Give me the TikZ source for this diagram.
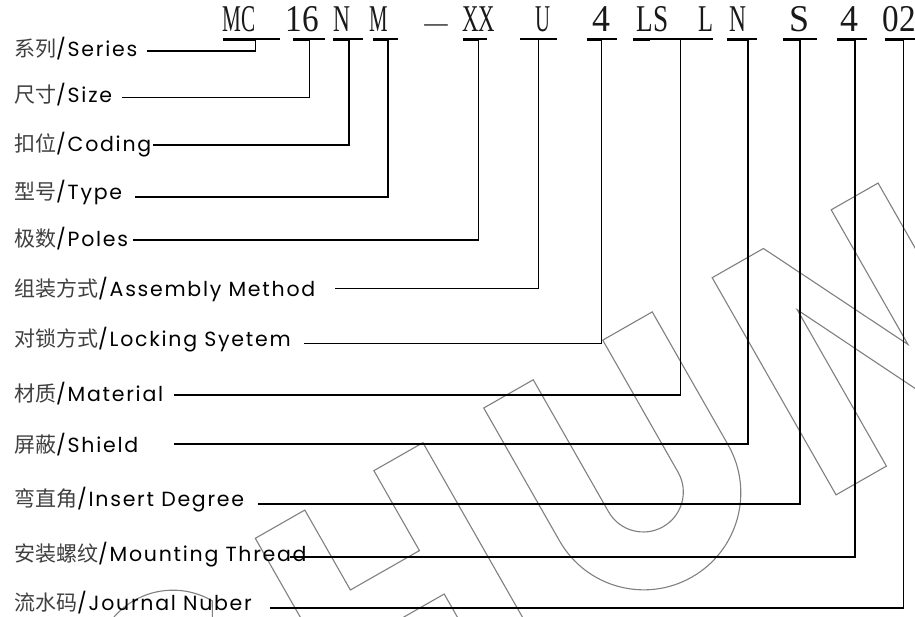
\documentclass[tikz,border=0pt]{standalone}
\usepackage{fontspec}
\usepackage{graphicx}
\newfontfamily\cjkf{Noto Sans CJK SC}
\newfontfamily\latf[LetterSpace=8.5]{Poppins}
\newfontfamily\codef{Liberation Serif}
\newcommand\zh[1]{{\cjkf\fontsize{21}{21}\selectfont\color{black!75}#1}}
\newcommand\cs[2]{\scalebox{#1}[1]{#2}}
\tikzset{
  lab/.style={anchor=base west, inner sep=0pt, font=\latf\fontsize{20.5}{22}\selectfont, text=black},
  code/.style={anchor=base, inner sep=0pt, font=\codef\fontsize{37.8}{40}\selectfont, text=black!90},
  conn/.style={line width=1.7pt, black},
  uline/.style={line width=1.7pt, black},
  ulthick/.style={line width=2.6pt, black},
  wm/.style={draw=black!50, line width=1.1pt, line join=miter}
}
\begin{document}
\begin{tikzpicture}[x=1pt,y=1pt]
\useasboundingbox (0,0) rectangle (915,-617);
\fill[white] (0,0) rectangle (915,-617);

% watermark (outlined letters, rotated)
\begin{scope}[shift={(255.3,-538.3)}, rotate=29.7]
  \clip[rotate=-29.7] (-255.3,538.3) rectangle (659.7,-78.7);
  % round letter before H (top part only visible)
  \draw[wm] (-79,-52) -- (-68.4,-33) arc[start angle=30, end angle=170, radius=78];
  % H
  \draw[wm] (0,0) -- (57,0) -- (57,-92) -- (136.5,-92) -- (136.5,0) -- (193,0) -- (193,-250)
     -- (136.5,-250) -- (136.5,-142) -- (57,-142) -- (57,-250) -- (0,-250) -- cycle;
  % U
  \draw[wm] (263,0) -- (320,0) -- (320,-152) arc[start angle=180, end angle=360, radius=40]
     -- (400,0) -- (457,0) -- (457,-153) arc[start angle=0, end angle=-180, radius=97] -- cycle;
  % N
  \draw[wm] (526,0) -- (585,0) -- (663,-155) -- (663,0) -- (717,0) -- (717,-250) -- (674,-250)
     -- (584,-70) -- (584,-250) -- (526,-250) -- cycle;
\end{scope}

% code line
\node[code] (c1) at (239,-32) {\cs{0.56}{MC}};
\node[code] (c2) at (302.5,-32) {\cs{0.88}{16}};
\node[code] (c3) at (341.5,-32) {\cs{0.62}{N}};
\node[code] (c4) at (379,-32) {\cs{0.55}{M}};
\node[code] (cd) at (436,-32) {\cs{0.9}{\fontsize{26}{26}\selectfont —}};
\node[code] (c5) at (478.5,-32) {\cs{0.6}{XX}};
\node[code] (c6) at (542.5,-32) {\cs{0.55}{U}};
\node[code] (c7) at (601,-32) {\cs{0.95}{4}};
\node[code] (c8) at (652.5,-32) {\cs{0.72}{LS}};
\node[code] (c8b) at (705.5,-32) {\cs{0.65}{L}};
\node[code] (c9) at (737.5,-32) {\cs{0.62}{N}};
\node[code] (c10) at (799,-32) {\cs{0.95}{S}};
\node[code] (c11) at (849,-32) {\cs{0.95}{4}};
\node[code] (c12) at (899,-32) {\cs{0.88}{02}};

% underlines
\draw[uline] (223,-39.3) -- (280,-39.3);  \draw[ulthick] (223,-39.3) -- (255,-39.3);
\draw[uline] (293,-39.3) -- (325,-39.3);  \draw[ulthick] (293,-39.3) -- (309,-39.3);
\draw[uline] (333,-39.3) -- (363,-39.3);  \draw[ulthick] (333,-39.3) -- (349,-39.3);
\draw[uline] (373,-39.3) -- (398,-39.3);  \draw[ulthick] (373,-39.3) -- (388,-39.3);
\draw[uline] (463,-39.3) -- (487,-39.3);  \draw[ulthick] (463,-39.3) -- (478,-39.3);
\draw[uline] (520,-39.3) -- (557,-39.3);
\draw[uline] (587,-39.3) -- (617,-39.3);  \draw[ulthick] (587,-39.3) -- (602,-39.3);
\draw[uline] (633,-39.3) -- (713,-39.3);  \draw[ulthick] (633,-39.3) -- (650,-39.3);
\draw[uline] (727,-39.3) -- (757,-39.3);  \draw[ulthick] (727,-39.3) -- (748,-39.3);
\draw[uline] (783,-39.3) -- (817,-39.3);  \draw[ulthick] (783,-39.3) -- (800,-39.3);
\draw[uline] (837,-39.3) -- (867,-39.3);  \draw[ulthick] (837,-39.3) -- (855,-39.3);
\draw[uline] (885,-39.3) -- (915,-39.3);  \draw[ulthick] (885,-39.3) -- (903,-39.3);

% labels
\node[lab] (l1) at (14,-56.7) {\zh{系列}/Series};
\node[lab] (l2) at (14,-103) {\zh{尺寸}/Size};
\node[lab] (l3) at (14,-151.7) {\zh{扣位}/Coding};
\node[lab] (l4) at (14,-200) {\zh{型号}/Type};
\node[lab] (l5) at (14,-246.7) {\zh{极数}/Poles};
\node[lab] (l6) at (14,-296.7) {\zh{组装方式}/Assembly Method};
\node[lab] (l7) at (14,-346.7) {\zh{对锁方式}/Locking Syetem};
\node[lab] (l8) at (14,-401.7) {\zh{材质}/Material};
\node[lab] (l9) at (14,-452.7) {\zh{屏蔽}/Shield};
\node[lab] (l10) at (14,-506.7) {\zh{弯直角}/Insert Degree};
\node[lab] (l11) at (14,-561) {\zh{安装螺纹}/Mounting Thread};
\node[lab] (l12) at (14,-610) {\zh{流水码}/Journal Nuber};

% connector start points and underline taps
\coordinate (s1) at (147,-50.7);   \coordinate (u1) at (255.5,-39.3);
\coordinate (s2) at (122,-97.5);   \coordinate (u2) at (309.5,-39.3);
\coordinate (s3) at (153,-145.3);  \coordinate (u3) at (349,-39.3);
\coordinate (s4) at (135,-196.7);  \coordinate (u4) at (388.3,-39.3);
\coordinate (s5) at (133,-240);    \coordinate (u5) at (478.5,-39.3);
\coordinate (s6) at (335,-288.5);  \coordinate (u6) at (538.5,-39.3);
\coordinate (s7) at (304,-343.5);  \coordinate (u7) at (601.5,-39.3);
\coordinate (s8) at (174,-395);    \coordinate (u8) at (680.5,-39.3);
\coordinate (s9) at (174,-444.3);  \coordinate (u9) at (747.8,-39.3);
\coordinate (s10) at (258,-504.3); \coordinate (u10) at (800.3,-39.3);
\coordinate (s11) at (290,-556.7); \coordinate (u11) at (855,-39.3);
\coordinate (s12) at (270,-608.2); \coordinate (u12) at (903.5,-39.3);

\foreach \i in {1,...,12} { \draw[conn] (s\i) -| (u\i); }
\end{tikzpicture}
\end{document}
